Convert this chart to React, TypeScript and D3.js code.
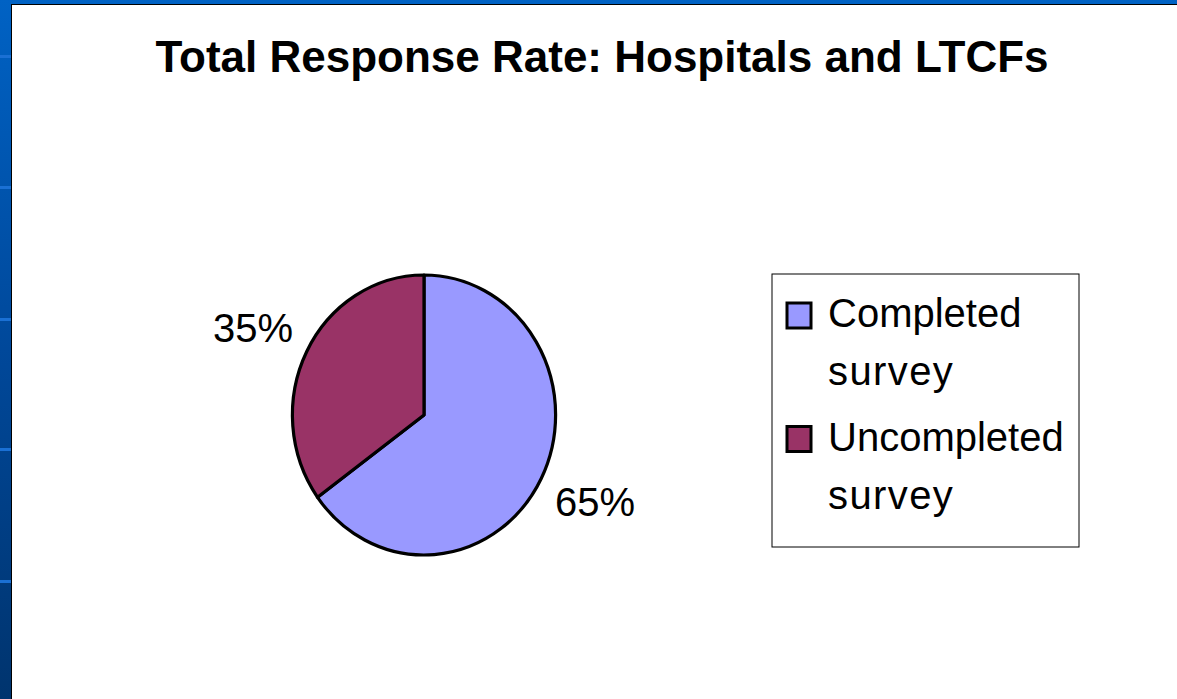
import React from "react";
import * as d3 from "d3";

const categories = ["Completed survey", "Uncompleted survey"];
const values = [65, 35];
const labels = ["65%", "35%"];
const colors = ["#9999ff", "#993366"];
const legendLines = [["Completed", "survey"], ["Uncompleted", "survey"]];
const stripeYs = [55, 186, 318, 448, 580];

const W = 1177;
const H = 699;
const cx = 424;
const cy = 415;
const r = 140;
const sx = 0.94; // pie is drawn slightly squashed horizontally
const font = "Arial, 'Liberation Sans', sans-serif";

export default function App() {
  const pie = d3.pie<number>().sort(null).startAngle(0).endAngle(2 * Math.PI);
  const arcs = pie(values);
  const arc = d3.arc<d3.PieArcDatum<number>>().innerRadius(0).outerRadius(r);
  const labelArc = d3.arc<d3.PieArcDatum<number>>().innerRadius(192).outerRadius(192);

  const legendY = d3.scaleBand<string>().domain(categories).range([288, 535]);

  return (
    <svg width={W} height={H} style={{ position: "absolute", left: 0, top: 0 }}>
      <defs>
        <linearGradient id="bg" x1="0" y1="0" x2="0" y2="1">
          <stop offset="0" stopColor="#0062c4" />
          <stop offset="0.5" stopColor="#00489a" />
          <stop offset="1" stopColor="#00346e" />
        </linearGradient>
      </defs>
      <rect x={0} y={0} width={W} height={H} fill="url(#bg)" />
      {stripeYs.map((y) => (
        <rect key={y} x={0} y={y} width={11} height={3} fill="#1a70d4" />
      ))}
      <rect x={11} y={4} width={W} height={H} fill="#000" />
      <rect x={12} y={5} width={W} height={H} fill="#fff" />

      <text
        x={602}
        y={72}
        textAnchor="middle"
        fontFamily={font}
        fontWeight="bold"
        fontSize={44}
        fill="#000"
      >
        Total Response Rate: Hospitals and LTCFs
      </text>

      <g transform={`translate(${cx},${cy}) scale(${sx},1)`}>
        {arcs.map((a, i) => (
          <path
            key={i}
            d={arc(a) || ""}
            fill={colors[i]}
            stroke="#000"
            strokeWidth={3.2}
            strokeLinejoin="round"
            vectorEffect="non-scaling-stroke"
          />
        ))}
      </g>
      <g transform={`translate(${cx},${cy})`}>
        {arcs.map((a, i) => {
          const [lx, ly] = labelArc.centroid(a);
          return (
            <text
              key={"l" + i}
              x={lx}
              y={ly}
              textAnchor="middle"
              dominantBaseline="central"
              fontFamily={font}
              fontSize={40}
              fill="#000"
            >
              {labels[i]}
            </text>
          );
        })}
      </g>

      <rect x={772} y={274} width={307} height={273} fill="#fff" stroke="#000" strokeWidth={1} />
      {categories.map((c, i) => {
        const y0 = legendY(c) || 0;
        return (
          <g key={c}>
            <rect x={787} y={y0 + 15} width={24} height={25} fill={colors[i]} stroke="#000" strokeWidth={3} />
            {legendLines[i].map((t, j) => (
              <text
                key={j}
                x={828}
                y={y0 + 39 + j * 58}
                fontFamily={font}
                fontSize={40}
                letterSpacing={j === 1 ? 1.4 : 0}
                fill="#000"
              >
                {t}
              </text>
            ))}
          </g>
        );
      })}
    </svg>
  );
}
